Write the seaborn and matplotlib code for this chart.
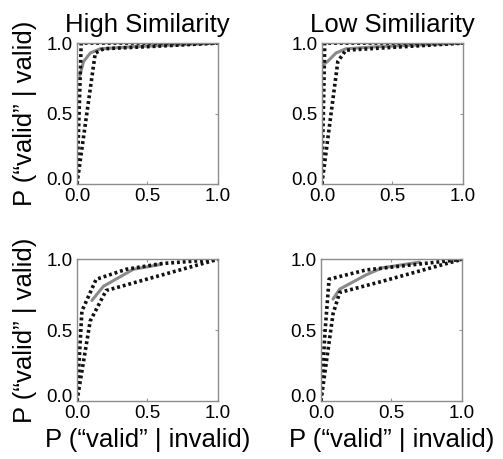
import numpy as np
import pandas as pd
import seaborn as sns
import matplotlib
matplotlib.use('Agg')
import matplotlib.pyplot as plt
import matplotlib.transforms as mtransforms

sns.set_style('ticks')
plt.rcParams['font.family'] = ['Liberation Sans', 'DejaVu Sans']
plt.rcParams['text.color'] = 'black'
plt.rcParams['axes.labelcolor'] = 'black'
plt.rcParams['xtick.labelcolor'] = 'black'
plt.rcParams['ytick.labelcolor'] = 'black'

# 数据：每个面板的ROC曲线（两条虚线 + 一条灰色实线）
titles = ['High Similarity', 'Low Similiarity']

# 左上 High Similarity
tl_a_x = [0.0, 0.03, 1.0]
tl_a_y = [0.0, 1.0, 1.0]
tl_b_x = [0.0, 0.13, 0.19, 0.5, 1.0]
tl_b_y = [0.0, 0.93, 0.96, 0.975, 1.0]
tl_g_x = [0.02, 0.047, 0.095, 0.165, 0.4, 1.0]
tl_g_y = [0.77, 0.87, 0.93, 0.96, 0.975, 1.0]

# 右上 Low Similiarity
tr_a_x = [0.0, 0.02, 1.0]
tr_a_y = [0.0, 1.0, 1.0]
tr_b_x = [0.0, 0.113, 0.17, 0.5, 1.0]
tr_b_y = [0.0, 0.87, 0.95, 0.97, 1.0]
tr_g_x = [0.007, 0.04, 0.1, 0.17, 0.4, 1.0]
tr_g_y = [0.845, 0.87, 0.93, 0.96, 0.975, 1.0]

# 左下
bl_a_x = [0.0, 0.035, 0.136, 0.35, 0.6, 1.0]
bl_a_y = [0.0, 0.635, 0.859, 0.93, 0.97, 1.0]
bl_b_x = [0.0, 0.094, 0.207, 1.0]
bl_b_y = [0.0, 0.565, 0.78, 1.0]
bl_g_x = [0.106, 0.188, 0.4, 0.6]
bl_g_y = [0.71, 0.81, 0.93, 0.965]

# 右下
br_a_x = [0.0, 0.03, 0.058, 0.32, 1.0]
br_a_y = [0.0, 0.5, 0.86, 0.925, 1.0]
br_b_x = [0.0, 0.086, 0.133, 0.435, 1.0]
br_b_y = [0.0, 0.615, 0.766, 0.845, 1.0]
br_g_x = [0.086, 0.133, 0.32, 0.435, 0.7]
br_g_y = [0.72, 0.79, 0.89, 0.94, 0.98]

panels = [
    (tl_a_x, tl_a_y, tl_b_x, tl_b_y, tl_g_x, tl_g_y),
    (tr_a_x, tr_a_y, tr_b_x, tr_b_y, tr_g_x, tr_g_y),
    (bl_a_x, bl_a_y, bl_b_x, bl_b_y, bl_g_x, bl_g_y),
    (br_a_x, br_a_y, br_b_x, br_b_y, br_g_x, br_g_y),
]

fig = plt.figure(figsize=(5.03, 4.59), dpi=100)
rects = [
    [0.153, 0.599, 0.280, 0.307],
    [0.640, 0.599, 0.280, 0.307],
    [0.153, 0.126, 0.280, 0.309],
    [0.638, 0.126, 0.280, 0.309],
]

for i, (rect, p) in enumerate(zip(rects, panels)):
    ax = fig.add_axes(rect)
    ax_, ay_, bx_, by_, gx_, gy_ = p
    sns.lineplot(x=gx_, y=gy_, ax=ax, color='#8a8a8a', linewidth=2.2,
                 sort=False, estimator=None)
    sns.lineplot(x=ax_, y=ay_, ax=ax, color='#111111', linewidth=2.6,
                 linestyle=(0, (0.8, 0.8)), sort=False, estimator=None)
    sns.lineplot(x=bx_, y=by_, ax=ax, color='#111111', linewidth=2.6,
                 linestyle=(0, (0.8, 0.8)), sort=False, estimator=None)
    ax.set_xlim(0, 1)
    ax.set_ylim(0, 1)
    ax.set_xticks([0, 0.5, 1.0])
    ax.set_yticks([0, 0.5, 1.0])
    ax.set_xticklabels(['0.0', '0.5', '1.0'])
    ax.set_yticklabels(['0.0', '0.5', '1.0'])
    ax.tick_params(direction='in', length=2, width=0.8, color='#999999',
                   labelsize=13.5, pad=3, top=True, right=True)
    # y轴的0.0稍微上移，避免与x轴的0.0重叠
    lab0 = ax.get_yticklabels()[0]
    lab0.set_transform(lab0.get_transform() +
                       mtransforms.ScaledTranslation(0, 4 / 72, fig.dpi_scale_trans))
    for s in ax.spines.values():
        s.set_color('#8c8c8c')
        s.set_linewidth(1.0)
    if i < 2:
        ax.set_title(titles[i], fontsize=18.5, pad=8)
    if i % 2 == 0:
        ax.set_ylabel('P (“valid” | valid)', fontsize=18.5, labelpad=7)
    if i >= 2:
        ax.set_xlabel('P (“valid” | invalid)', fontsize=18.5, labelpad=4)

fig.savefig('out.png', dpi=100)
